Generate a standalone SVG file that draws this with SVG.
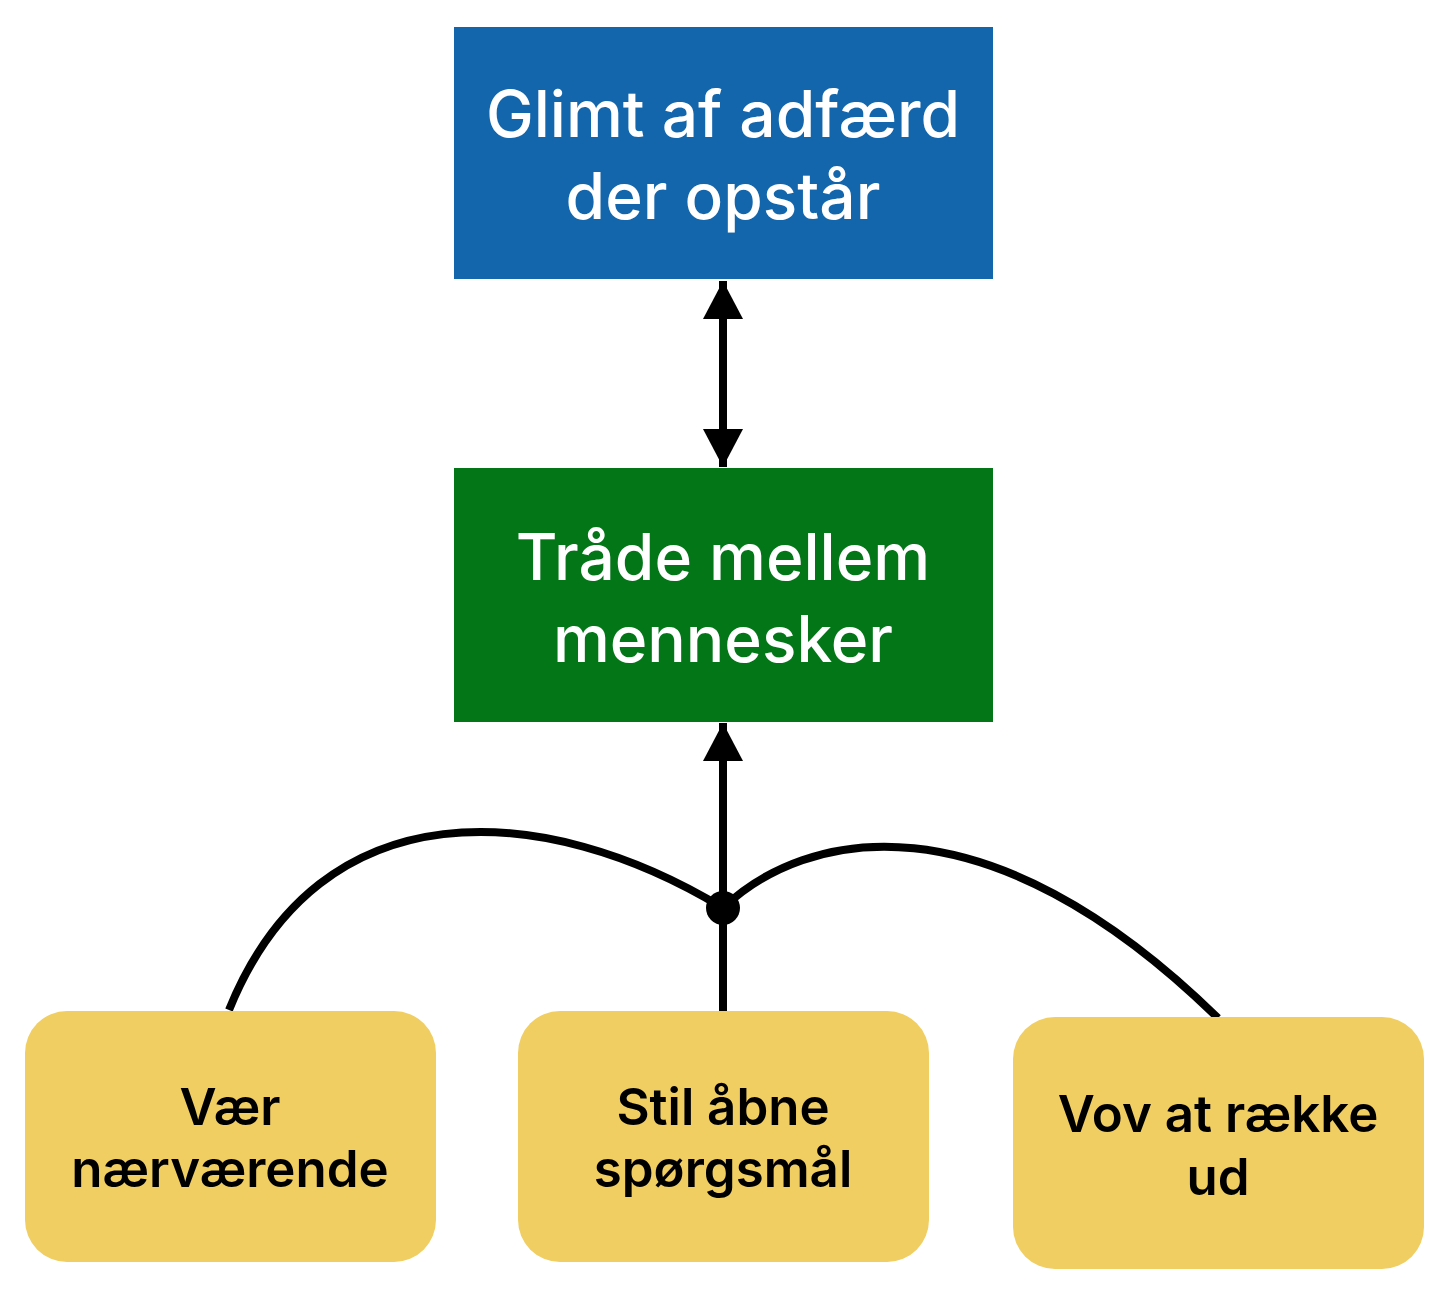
<svg xmlns="http://www.w3.org/2000/svg" width="1442" height="1292" viewBox="0 0 1442 1292">
<style>
.t{font-family:Inter,"Noto Sans","Liberation Sans",sans-serif;text-anchor:middle}
.big{font-size:64px;font-weight:500;fill:#fff}
.sm{font-size:51px;font-weight:600;fill:#000}
.c{fill:none;stroke:#000;stroke-width:8}
</style>
<defs>
<marker id="ah" viewBox="0 0 38 40" refX="38" refY="20" markerWidth="38" markerHeight="40" markerUnits="userSpaceOnUse" orient="auto-start-reverse">
<path d="M0,0 L38,20 L0,40 Z" fill="#000"/>
</marker>
</defs>
<rect width="1442" height="1292" fill="#fff"/>
<g id="connectors">
<line class="c" x1="723" y1="281" x2="723" y2="467" marker-start="url(#ah)" marker-end="url(#ah)"/>
<line class="c" x1="723" y1="908" x2="723" y2="723" marker-end="url(#ah)"/>
<line class="c" x1="723" y1="908" x2="723" y2="1011"/>
<path class="c" d="M229,1010 C320,785 545,800 723,908"/>
<path class="c" d="M723,908 C805,830 985,790 1218,1018"/>
<circle cx="723" cy="908" r="17" fill="#000"/>
</g>
<g id="n1">
<rect x="454" y="27" width="539" height="252" fill="#1366ac"/>
<text class="t big" x="723" y="137">Glimt af adfærd</text>
<text class="t big" x="723" y="219">der opstår</text>
</g>
<g id="n2">
<rect x="454" y="468" width="539" height="254" fill="#037718"/>
<text class="t big" x="723" y="580">Tråde mellem</text>
<text class="t big" x="723" y="662">mennesker</text>
</g>
<g id="n3">
<rect x="25" y="1011" width="411" height="251" rx="42" fill="#f0ce62"/>
<text class="t sm" x="230" y="1125">Vær</text>
<text class="t sm" x="230" y="1187">nærværende</text>
</g>
<g id="n4">
<rect x="518" y="1011" width="411" height="251" rx="42" fill="#f0ce62"/>
<text class="t sm" x="723" y="1125">Stil åbne</text>
<text class="t sm" x="723" y="1187">spørgsmål</text>
</g>
<g id="n5">
<rect x="1013" y="1017" width="411" height="252" rx="42" fill="#f0ce62"/>
<text class="t sm" x="1218" y="1132">Vov at række</text>
<text class="t sm" x="1218" y="1195">ud</text>
</g>
</svg>
